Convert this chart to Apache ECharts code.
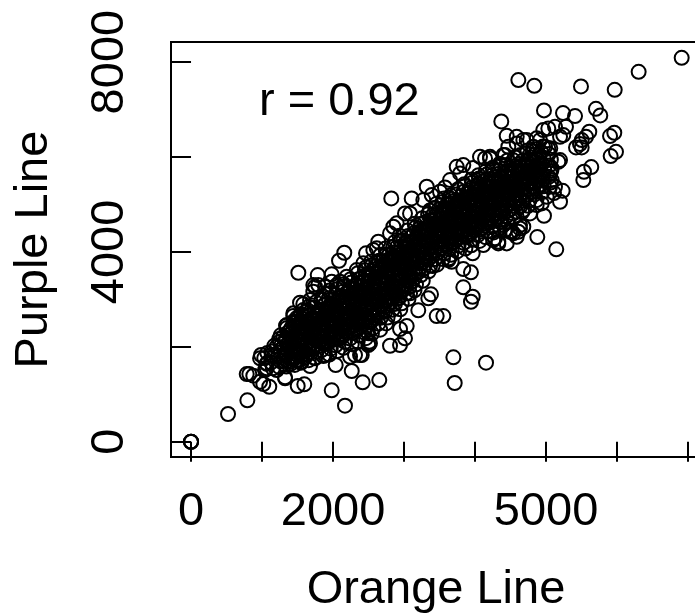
<!DOCTYPE html>
<html>
<head>
<meta charset="utf-8">
<style>
html, body { margin: 0; padding: 0; background: #fff; overflow: hidden; }
#chart { width: 695px; height: 614px; }
</style>
<script src="https://cdn.jsdelivr.net/npm/echarts@6/dist/echarts.min.js"></script>
</head>
<body>
<div id="chart"></div>
<script>
const xTicks = [0, 1000, 2000, 3000, 4000, 5000, 6000, 7000]
const xLabels = [0, 2000, 5000]
const yTicks = [0, 2000, 4000, 6000, 8000]
const yLabels = [0, 4000, 8000]
const correlationText = 'r = 0.92'

// [orange, purple]
const isolatedPoints = [
  [0,0],[0,0],[0,0],[521,584],[793,872],[6909,8091],[6303,7796],[5966,7417],[5491,7488],[4609,7621],[4834,7501],
  [4970,6983],[5238,6926],[5407,6862],[5702,7016],[5763,6877],[4369,6751],[4445,6447],[4586,6426],[5031,6603],
  [5125,6637],[5280,6637],[5242,6462],[5196,6426],[4960,6568],[4867,6393],[5608,6532],[5562,6426],[5501,6357],
  [5421,6203],[5501,6203],[5477,6272],[5960,6511],[5900,6441],[5984,6110],[5909,6020],[5636,5788],[5533,5689],
  [5524,5514],[5196,5935],[5172,5900],[5233,5288],[5196,5057],[5111,5240],[4970,4762],[4876,4313],[5143,4054],
  [4632,4566],[4586,4319],[4609,4425],[4515,4425],[4327,4214],[4256,4250],[4116,4144],[4867,4987],[4773,4812],
  [5055,5373],[5055,5655],[5031,6182],[4210,6005],[4140,5971],[3694,1778],[3713,1237],[4154,1665],[2802,2023],
  [2943,2037],[3013,2179],[3037,2438],[2943,2375],[2510,2107],[2496,2037],[2380,1827],[2239,1791],[3200,2769],
  [3459,2648],[3553,2648],[3341,3021],[3379,3106],[3834,3253],[3966,3055],[3942,2950],[3834,3639],[3942,3569],
  [3403,3702],[1511,3561],[1784,3512],[1981,3527],[2158,3982],[2084,3814],[2464,3970],[2637,4214],[2615,4075],
  [1581,2901],[1535,2929],[1440,2648],[1488,2606],[1338,2444],[1746,3266],[1722,3161],[2098,3371],[1981,3371],
  [821,1426],[784,1426],[877,1391],[972,1264],[1018,1216],[1102,1159],[1324,1357],[1502,1174],[1595,1209],
  [1981,1083],[2168,759],[2417,1252],[2651,1300],[2263,1490],[2037,1616],[1676,1595],[972,1757],[986,1827],
  [1066,1652],[2820,5128],[3107,5128],[3319,5373],[3576,5360],[3013,4812],[3084,4812],[2849,4530],[3741,5794],
  [3834,5830],[4069,6005],[3971,5767],[3637,3864],[3670,3793],[3966,3970],[4327,4180],[4280,4286],[4538,4391],
  [4632,4496],[4398,4566],[4351,4671],[1722,3302],[1440,2705],[1511,2600],[1347,2459],[1253,2107],[1206,2002]
]

// rings along the rim of the band
const edgeCloud = [
  [2896,4602],[3271,5093],[3389,5198],[3506,5268],[3647,5514],[3788,5655],[4210,5971],[4398,6041],[4586,6287],[4679,6357],
  [3623,3828],[4445,4180],[4679,4530],[3013,3266],[3084,3127],[5079,5514],[5125,5373],[5008,5162],[4938,5023],[4679,4882],
  [4538,4812],[4492,4425],[4421,4461],[4351,4636],[5079,5760],[4914,6357],[4727,6357],[4468,6216],[4421,6041],[4819,6216],
  [4984,6216],[1559,1686],[2404,1827],[2309,1827],[2520,2073],[2496,2284],[1887,1827],[1324,1336],[1206,1511],[1066,1547],
  [1136,1827],[1394,1686],[1488,1721],[1746,1757],[1792,3302],[1887,3266],[2051,3302],[2192,3477],[2333,3618],[2426,3759],
  [2567,4039],[2802,4391],[1676,2986],[1581,2775],[1440,2495],[1300,2212]
]

const lowCloud = [
  [1043,1512],[1068,1640],[1031,1763],[1075,1871],[1152,1548],[1128,1672],[1166,1795],[1141,1903],[1173,2021],
  [1247,1571],[1268,1688],[1233,1812],[1259,1934],[1276,2052],[1241,2164],[1262,2243],
  [1342,1583],[1366,1702],[1329,1826],[1357,1947],[1371,2068],[1338,2189],[1362,2297],[1349,2396],
  [1461,1618],[1437,1733],[1468,1856],[1443,1972],[1456,2094],[1472,2211],[1439,2329],[1463,2447],[1448,2541],
  [1547,1662],[1569,1781],[1532,1893],[1558,2016],[1574,2134],[1541,2252],[1566,2371],[1536,2488],[1561,2597],[1549,2692],
  [1658,1718],[1634,1836],[1671,1957],[1642,2073],[1666,2196],[1637,2312],[1674,2428],[1648,2541],[1663,2659],[1639,2771],[1656,2846],
  [1743,1772],[1767,1889],[1732,2007],[1759,2126],[1774,2243],[1738,2361],[1763,2478],[1746,2596],[1771,2708],[1735,2823],[1756,2938],
  [1863,1807],[1838,1931],[1871,2052],[1842,2167],[1867,2289],[1836,2404],[1859,2523],[1874,2641],[1845,2759],[1868,2872],[1839,2987],[1857,3064],
  [1947,1838],[1968,1961],[1934,2083],[1959,2204],[1973,2318],[1941,2437],[1964,2556],[1932,2672],[1956,2794],[1971,2907],[1938,3021],[1961,3133],[1949,3187],
  [2063,1912],[2038,2033],[2071,2156],[2042,2271],[2067,2392],[2036,2509],[2059,2628],[2074,2746],[2045,2863],[2068,2981],[2039,3097],[2056,3214],
  [2147,1978],[2168,2101],[2134,2219],[2159,2341],[2173,2458],[2141,2576],[2164,2694],[2132,2811],[2156,2929],[2171,3043],[2138,3162],[2161,3276],[2149,3318],
  [2263,2052],[2238,2174],[2271,2293],[2242,2413],[2267,2531],[2236,2649],[2259,2768],[2274,2884],[2245,3002],[2268,3119],[2239,3237],[2256,3354],[2248,3426],
  [2347,2112],[2368,2236],[2334,2357],[2359,2478],[2373,2597],[2341,2716],[2364,2834],[2332,2953],[2356,3071],[2371,3188],[2338,3306],[2361,3423],[2349,3552],
  [1294,1712],[1318,1834],[1306,2003],[1332,2121],[1402,1643],[1389,1768],[1411,1889],[1397,2018],[1418,2142],[1386,2263],[1408,2386],
  [1504,1708],[1497,1824],[1512,1946],[1489,2063],[1519,2177],[1493,2296],[1508,2412],[1487,2524],
  [1603,1772],[1592,1904],[1611,2031],[1589,2152],[1617,2271],[1596,2398],[1608,2512],[1593,2633],[1621,2746]
]

const midCloud = [
  [2463,2183],[2438,2306],[2471,2428],[2442,2549],[2467,2668],[2436,2787],[2459,2906],[2474,3024],[2445,3143],[2468,3261],[2439,3379],[2456,3497],[2448,3616],[2466,3678],
  [2547,2281],[2568,2403],[2534,2526],[2559,2647],[2573,2769],[2541,2888],[2564,3007],[2532,3126],[2556,3244],[2571,3363],[2538,3481],[2561,3598],[2549,3717],[2537,3796],
  [2663,2362],[2638,2487],[2671,2611],[2642,2734],[2667,2856],[2636,2978],[2659,3098],[2674,3219],[2645,3338],[2668,3457],[2639,3576],[2656,3694],[2648,3813],[2666,3931],
  [2747,2493],[2768,2617],[2734,2741],[2759,2864],[2773,2986],[2741,3107],[2764,3228],[2732,3348],[2756,3467],[2771,3586],[2738,3706],[2761,3825],[2749,3943],[2737,4072],
  [2863,2662],[2838,2783],[2871,2904],[2842,3026],[2867,3148],[2836,3268],[2859,3389],[2874,3509],[2845,3628],[2868,3748],[2839,3867],[2856,3986],[2848,4104],[2866,4203],
  [2947,2791],[2968,2916],[2934,3038],[2959,3161],[2973,3283],[2941,3404],[2964,3524],[2932,3644],[2956,3763],[2971,3882],[2938,4002],[2961,4121],[2949,4239],[2937,4342],
  [3063,3012],[3038,3133],[3071,3254],[3042,3376],[3067,3497],[3036,3618],[3059,3738],[3074,3857],[3045,3977],[3068,4096],[3039,4216],[3056,4334],[3048,4452],
  [3147,3191],[3168,3312],[3134,3434],[3159,3556],[3173,3677],[3141,3797],[3164,3917],[3132,4037],[3156,4156],[3171,4276],[3138,4394],[3161,4513],[3149,4596],
  [3263,3392],[3238,3513],[3271,3634],[3242,3756],[3267,3876],[3236,3996],[3259,4116],[3274,4236],[3245,4356],[3268,4475],[3239,4594],[3256,4712],
  [3347,3592],[3368,3713],[3334,3834],[3359,3955],[3373,4076],[3341,4196],[3364,4316],[3332,4436],[3356,4556],[3371,4675],[3338,4794],[3361,4872]
]

const highCloud = [
  [3463,3731],[3438,3852],[3471,3973],[3442,4094],[3467,4214],[3436,4334],[3459,4454],[3474,4574],[3445,4694],[3468,4813],[3439,4932],[3456,5014],
  [3547,3851],[3568,3972],[3534,4093],[3559,4214],[3573,4334],[3541,4454],[3564,4574],[3532,4694],[3556,4813],[3571,4932],[3538,5051],[3561,5124],
  [3663,3941],[3638,4062],[3671,4183],[3642,4303],[3667,4423],[3636,4543],[3659,4663],[3674,4782],[3645,4902],[3668,5021],[3639,5140],[3656,5188],
  [3747,4011],[3768,4132],[3734,4253],[3759,4373],[3773,4493],[3741,4613],[3764,4733],[3732,4853],[3756,4972],[3771,5091],[3738,5210],[3761,5322],
  [3863,4071],[3838,4192],[3871,4313],[3842,4433],[3867,4553],[3836,4673],[3859,4793],[3874,4912],[3845,5032],[3868,5151],[3839,5270],[3856,5389],[3848,5426],
  [3947,4141],[3968,4262],[3934,4383],[3959,4503],[3973,4623],[3941,4743],[3964,4863],[3932,4983],[3956,5102],[3971,5221],[3938,5340],[3961,5459],[3949,5527],
  [4063,4231],[4038,4352],[4071,4473],[4042,4593],[4067,4713],[4036,4833],[4059,4953],[4074,5072],[4045,5192],[4068,5311],[4039,5430],[4056,5549],[4048,5618],
  [4147,4311],[4168,4432],[4134,4553],[4159,4673],[4173,4793],[4141,4913],[4164,5033],[4132,5152],[4156,5272],[4171,5391],[4138,5510],[4161,5629],[4149,5697],
  [4263,4411],[4238,4532],[4271,4653],[4242,4773],[4267,4893],[4236,5013],[4259,5133],[4274,5252],[4245,5372],[4268,5491],[4239,5610],[4256,5729],[4248,5776],
  [4347,4511],[4368,4632],[4334,4753],[4359,4873],[4373,4993],[4341,5113],[4364,5233],[4332,5352],[4356,5472],[4371,5591],[4338,5710],[4361,5829],[4349,5858],
  [4463,4631],[4438,4752],[4471,4873],[4442,4993],[4467,5113],[4436,5233],[4459,5353],[4474,5472],[4445,5592],[4468,5711],[4439,5830],[4456,5926],
  [4547,4731],[4568,4852],[4534,4973],[4559,5093],[4573,5213],[4541,5333],[4564,5453],[4532,5572],[4556,5692],[4571,5811],[4538,5930],[4561,5996],
  [4663,4841],[4638,4962],[4671,5083],[4642,5203],[4667,5323],[4636,5443],[4659,5563],[4674,5682],[4645,5802],[4668,5921],[4639,6040],
  [4747,4971],[4768,5092],[4734,5213],[4759,5333],[4773,5453],[4741,5573],[4764,5693],[4732,5812],[4756,5932],[4771,6051],[4738,6136],
  [4863,5091],[4838,5212],[4871,5333],[4842,5453],[4867,5573],[4836,5693],[4859,5813],[4874,5932],[4845,6052],[4868,6171],
  [4947,5261],[4968,5382],[4934,5503],[4959,5623],[4973,5743],[4941,5863],[4964,5983],[4932,6102],[4956,6222],
  [5063,5461],[5038,5582],[5071,5703],[5042,5823],[5067,5943],[5036,6063],[5059,6183]
]

// the solid black middle of the band
const coreCloud = [
  [1712,1958],[1689,2064],[1724,2187],[1697,2281],[1718,2402],[1683,2497],[1706,2593],
  [1794,2012],[1819,2118],[1783,2223],[1806,2347],[1825,2449],[1788,2562],[1811,2658],[1797,2746],
  [1908,2063],[1884,2177],[1921,2268],[1893,2383],[1913,2491],[1879,2603],[1902,2707],[1926,2812],[1889,2894],
  [1994,2159],[2021,2264],[1982,2378],[2007,2462],[2026,2573],[1988,2689],[2013,2777],[1979,2886],[2003,2992],
  [2108,2213],[2084,2321],[2119,2427],[2092,2533],[2113,2638],[2079,2742],[2103,2859],[2124,2948],[2088,3059],
  [2194,2307],[2219,2409],[2183,2516],[2206,2622],[2225,2713],[2188,2831],[2211,2937],[2179,3046],[2203,3158],
  [2308,2361],[2284,2468],[2321,2574],[2293,2687],[2313,2792],[2279,2896],[2302,3004],[2326,3112],[2289,3219],[2311,3292],
  [2394,2414],[2421,2522],[2382,2629],[2407,2733],[2426,2841],[2388,2948],[2413,3056],[2379,3163],[2403,3271],[2419,3378],[2391,3446],
  [2508,2512],[2484,2618],[2519,2727],[2492,2833],[2513,2941],[2479,3047],[2503,3154],[2524,3262],[2488,3369],[2511,3476],[2496,3544],
  [2594,2613],[2621,2721],[2582,2827],[2607,2936],[2626,3042],[2588,3151],[2613,3257],[2579,3364],[2603,3472],[2619,3578],[2591,3691],
  [2708,2762],[2684,2871],[2719,2977],[2692,3086],[2713,3193],[2679,3301],[2703,3408],[2724,3514],[2688,3621],[2711,3729],[2696,3793],
  [2794,2913],[2821,3021],[2782,3129],[2807,3236],[2826,3343],[2788,3451],[2813,3558],[2779,3664],[2803,3772],[2819,3879],[2791,3944],
  [2908,3012],[2884,3119],[2919,3227],[2892,3334],[2913,3442],[2879,3549],[2903,3656],[2924,3763],[2888,3869],[2911,3977],[2896,4092],
  [2994,3213],[3021,3321],[2982,3428],[3007,3536],[3026,3643],[2988,3751],[3013,3858],[2979,3964],[3003,4072],[3019,4179],[2991,4244],
  [3108,3362],[3084,3469],[3119,3577],[3092,3684],[3113,3792],[3079,3899],[3103,4006],[3124,4113],[3088,4219],[3111,4327],
  [3194,3563],[3221,3671],[3182,3778],[3207,3886],[3226,3993],[3188,4101],[3213,4208],[3179,4314],[3203,4422],[3219,4493],
  [3308,3762],[3284,3869],[3319,3977],[3292,4084],[3313,4192],[3279,4299],[3303,4406],[3324,4513],[3288,4619],
  [3394,3913],[3421,4021],[3382,4128],[3407,4236],[3426,4343],[3388,4451],[3413,4558],[3379,4664],[3403,4772],
  [3508,4062],[3484,4169],[3519,4277],[3492,4384],[3513,4492],[3479,4599],[3503,4706],[3524,4813],[3488,4892],
  [3594,4163],[3621,4271],[3582,4378],[3607,4486],[3626,4593],[3588,4701],[3613,4808],[3579,4914],[3603,4994],
  [3708,4212],[3684,4319],[3719,4427],[3692,4534],[3713,4642],[3679,4749],[3703,4856],[3724,4963],[3688,5069],
  [3794,4313],[3821,4421],[3782,4528],[3807,4636],[3826,4743],[3788,4851],[3813,4958],[3779,5064],[3803,5172],
  [3908,4362],[3884,4469],[3919,4577],[3892,4684],[3913,4792],[3879,4899],[3903,5006],[3924,5113],[3888,5219],[3911,5294],
  [3994,4463],[4021,4571],[3982,4678],[4007,4786],[4026,4893],[3988,5001],[4013,5108],[3979,5214],[4003,5322],[4019,5392],
  [4108,4512],[4084,4619],[4119,4727],[4092,4834],[4113,4942],[4079,5049],[4103,5156],[4124,5263],[4088,5369],[4111,5477],
  [4194,4613],[4221,4721],[4182,4828],[4207,4936],[4226,5043],[4188,5151],[4213,5258],[4179,5364],[4203,5472],[4219,5544],
  [4308,4712],[4284,4819],[4319,4927],[4292,5034],[4313,5142],[4279,5249],[4303,5356],[4324,5463],[4288,5569],[4311,5642],
  [4394,4813],[4421,4921],[4382,5028],[4407,5136],[4426,5243],[4388,5351],[4413,5458],[4379,5564],[4403,5672],
  [4508,4912],[4484,5019],[4519,5127],[4492,5234],[4513,5342],[4479,5449],[4503,5556],[4524,5663],[4488,5769],
  [4594,5013],[4621,5121],[4582,5228],[4607,5336],[4626,5443],[4588,5551],[4613,5658],[4579,5764],[4603,5842],
  [4708,5162],[4684,5269],[4719,5377],[4692,5484],[4713,5592],[4679,5699],[4703,5806],[4724,5913],
  [4794,5263],[4821,5371],[4782,5478],[4807,5586],[4826,5693],[4788,5801],[4813,5908],[4779,5994],
  [4908,5412],[4884,5519],[4919,5627],[4892,5734],[4913,5842],[4879,5949],[4903,6042]
]

const fontName = '"Liberation Sans", Arial, sans-serif'

const axisCommon = {
  type: 'value',
  nameLocation: 'middle',
  nameTextStyle: { fontSize: 47, fontFamily: fontName, color: '#000' },
  splitLine: { show: false },
  axisLine: { show: false }
}

const chart = echarts.init(document.getElementById('chart'), null, { renderer: 'canvas' })

chart.setOption({
  animation: false,
  backgroundColor: '#fff',
  grid: {
    show: true,
    left: 171,
    top: 42,
    width: 530, // right edge of the box falls outside the picture
    height: 415,
    outerBoundsMode: 'none',
    borderColor: '#000',
    borderWidth: 2,
    backgroundColor: 'transparent'
  },
  xAxis: {
    ...axisCommon,
    name: 'Orange Line',
    nameGap: 110,
    min: -282,
    max: 7181,
    axisTick: { show: true, length: 20, customValues: xTicks, lineStyle: { color: '#000', width: 2 } },
    axisLabel: { customValues: xLabels, margin: 32, fontSize: 47, fontFamily: fontName, color: '#000', hideOverlap: false, formatter: v => String(v) }
  },
  yAxis: {
    ...axisCommon,
    name: 'Purple Line',
    nameGap: 113.5,
    min: -322,
    max: 8424,
    axisTick: { show: true, length: 20, customValues: yTicks, lineStyle: { color: '#000', width: 2 } },
    axisLabel: { customValues: yLabels, rotate: 90, margin: 37, fontSize: 47, fontFamily: fontName, color: '#000', hideOverlap: false, formatter: v => String(v) }
  },
  graphic: [{
    type: 'text',
    left: 259,
    top: 79,
    style: { text: correlationText, font: '47px "Liberation Sans", Arial, sans-serif', fill: '#000' }
  }],
  series: [{
    type: 'scatter',
    silent: true,
    symbol: 'circle',
    symbolSize: 14,
    itemStyle: { color: 'rgba(0,0,0,0)', borderColor: '#000', borderWidth: 2, opacity: 1 },
    data: [...isolatedPoints, ...edgeCloud, ...lowCloud, ...midCloud, ...highCloud, ...coreCloud]
  }]
})
</script>
</body>
</html>
